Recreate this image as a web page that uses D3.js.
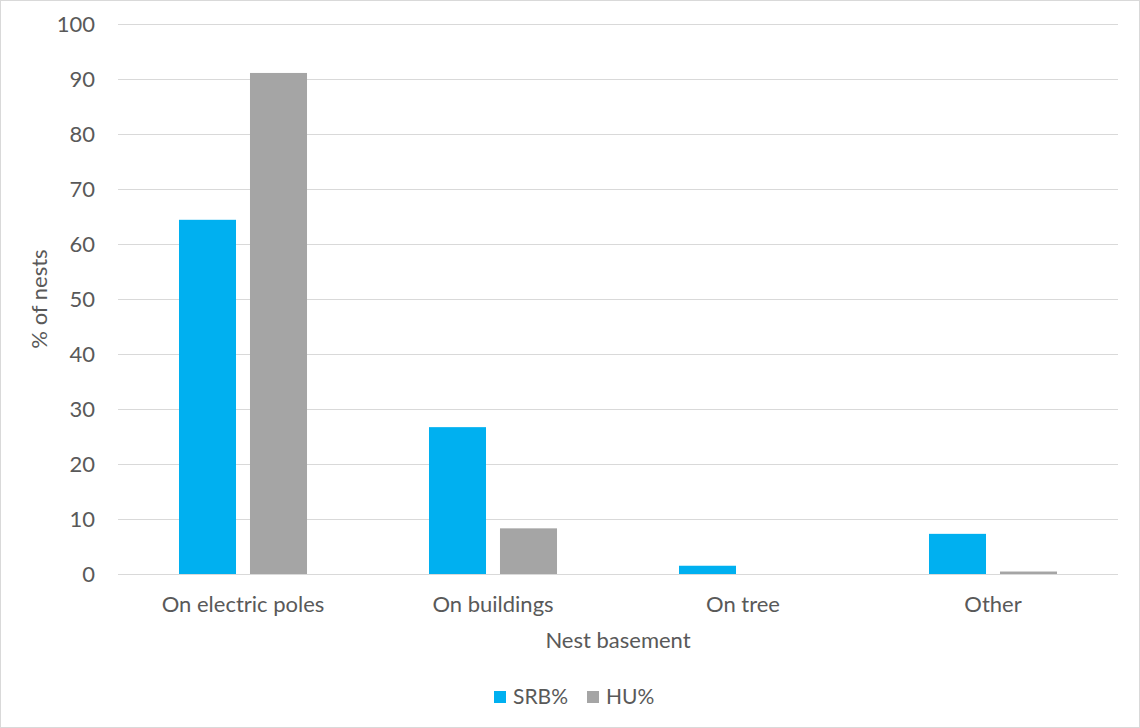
<!DOCTYPE html>
<html><head><meta charset="utf-8">
<script src="https://cdn.jsdelivr.net/npm/d3@7"></script>
<style>body{margin:0;background:#fff}svg{display:block}text{font-family:Lato,"Open Sans",sans-serif;fill:#595959}</style>
</head><body>
<script>
const categories = ["On electric poles","On buildings","On tree","Other"];
const seriesNames = ["SRB%","HU%"];
const srb = [64.4, 26.7, 1.5, 7.3];
const hu = [91.1, 8.3, 0, 0.45];
const yTicks = [0,10,20,30,40,50,60,70,80,90,100];
const colors = ["#00B0F0","#A5A5A5"];

(function(){
const W=1140,H=728,FS=22;
const svg=d3.select("body").append("svg").attr("width",W).attr("height",H);
svg.append("rect").attr("x",0.5).attr("y",0.5).attr("width",W-1).attr("height",H-1).attr("fill","#fff").attr("stroke","#d9d9d9");
const pL=118,pR=1118,pT=24,pB=574;
const x=d3.scaleBand().domain(categories).range([pL,pR]);
const x1=d3.scaleBand().domain(seriesNames).range([0,x.bandwidth()]).paddingInner(0.197).paddingOuter(0.859);
const y=d3.scaleLinear().domain([0,100]).range([pB,pT]);

const ga=svg.append("g").attr("transform",`translate(${pL},0)`)
 .call(d3.axisLeft(y).tickValues(yTicks).tickSize(-(pR-pL)).tickPadding(23));
ga.select(".domain").remove();
ga.selectAll(".tick line").attr("stroke","#d9d9d9");
ga.selectAll(".tick text").attr("font-size",FS).attr("fill","#595959");

const data=[srb,hu];
categories.forEach((c,i)=>{
  seriesNames.forEach((s,j)=>{
    const v=data[j][i];
    svg.append("rect").attr("x",x(c)+x1(s)).attr("y",y(v)).attr("width",x1.bandwidth()).attr("height",y(0)-y(v)).attr("fill",colors[j]);
  });
});
svg.append("line").attr("x1",pL).attr("x2",pR).attr("y1",pB+0.5).attr("y2",pB+0.5).attr("stroke","#d9d9d9");

const gx=svg.append("g").attr("transform",`translate(0,${pB})`).call(d3.axisBottom(x).tickSize(0).tickPadding(22));
gx.select(".domain").remove();
gx.selectAll(".tick text").attr("font-size",FS).attr("fill","#595959");

svg.append("text").attr("x",(pL+pR)/2).attr("y",648).attr("text-anchor","middle").attr("font-size",FS).text("Nest basement");
svg.append("text").attr("transform","translate(47,299) rotate(-90)").attr("text-anchor","middle").attr("font-size",FS).text("% of nests");

const lg=svg.append("g");
const lx=[494,587];
seriesNames.forEach((s,j)=>{
  lg.append("rect").attr("x",lx[j]).attr("y",691).attr("width",12).attr("height",12).attr("fill",colors[j]);
  lg.append("text").attr("x",lx[j]+19).attr("y",704).attr("font-size",21).text(s);
});
})();
</script>
</body></html>
